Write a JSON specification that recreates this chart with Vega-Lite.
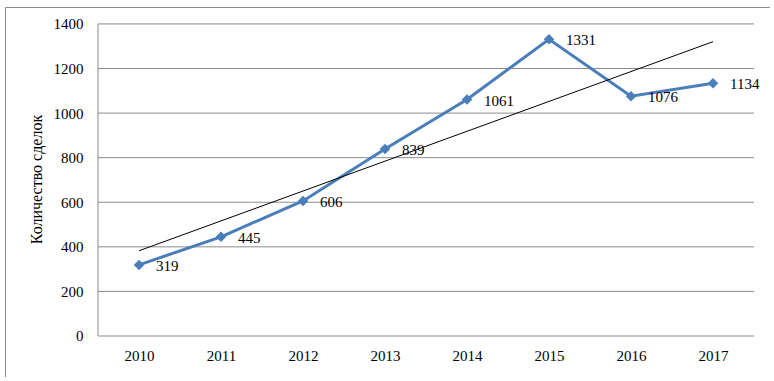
{
  "$schema": "https://vega.github.io/schema/vega-lite/v6.json",
  "width": 765,
  "height": 370,
  "autosize": {"type": "none"},
  "padding": {"left": 5, "top": 7, "right": 0, "bottom": 0},
  "background": "white",
  "config": {
    "view": {"stroke": "#8c8c8c", "strokeWidth": 1},
    "font": "Liberation Serif, serif",
    "axis": {"titleFont": "Liberation Serif, serif", "labelFont": "Liberation Serif, serif"}
  },
  "datasets": {
    "deals": [
      {"year": 2010, "count": 319},
      {"year": 2011, "count": 445},
      {"year": 2012, "count": 606},
      {"year": 2013, "count": 839},
      {"year": 2014, "count": 1061},
      {"year": 2015, "count": 1331},
      {"year": 2016, "count": 1076},
      {"year": 2017, "count": 1134}
    ],
    "grid": [
      {"v": 0, "from": 2009.5, "to": 2017.5},
      {"v": 200, "from": 2009.5, "to": 2017.5},
      {"v": 400, "from": 2009.5, "to": 2017.5},
      {"v": 600, "from": 2009.5, "to": 2017.5},
      {"v": 800, "from": 2009.5, "to": 2017.5},
      {"v": 1000, "from": 2009.5, "to": 2017.5},
      {"v": 1200, "from": 2009.5, "to": 2017.5},
      {"v": 1400, "from": 2009.5, "to": 2017.5}
    ],
    "frame": [
      {"x": 2009.5, "low": 0, "high": 1400}
    ]
  },
  "layer": [
    {
      "data": {"name": "grid"},
      "mark": {"type": "rule", "color": "#8c8c8c", "strokeWidth": 1},
      "encoding": {
        "x": {
          "field": "from", "type": "quantitative",
          "scale": {"domain": [2008.366, 2017.695], "nice": false, "zero": false},
          "axis": {
            "values": [2010, 2011, 2012, 2013, 2014, 2015, 2016, 2017],
            "format": "d", "offset": -29, "ticks": false, "domain": false, "grid": false,
            "labelPadding": 0, "labelFontSize": 15, "labelColor": "#000",
            "labelFlush": false, "title": null
          }
        },
        "x2": {"field": "to"},
        "y": {
          "field": "v", "type": "quantitative",
          "scale": {"domain": [-184, 1476], "nice": false, "zero": false},
          "axis": {
            "values": [0, 200, 400, 600, 800, 1000, 1200, 1400],
            "format": "d",
            "title": "Количество сделок", "offset": -78, "ticks": false, "domain": false, "grid": false,
            "labelPadding": 0, "labelFontSize": 15, "labelColor": "#000",
            "titleFontSize": 16, "titleFontWeight": "normal", "titleColor": "#000",
            "titlePadding": 9, "titleY": 172
          }
        }
      }
    },
    {
      "data": {"name": "frame"},
      "mark": {"type": "rule", "color": "#8c8c8c", "strokeWidth": 1},
      "encoding": {
        "x": {"field": "x", "type": "quantitative"},
        "y": {"field": "low", "type": "quantitative"},
        "y2": {"field": "high"}
      }
    },
    {
      "data": {"name": "deals"},
      "mark": {"type": "line", "color": "#4a7ebb", "strokeWidth": 3},
      "encoding": {
        "x": {"field": "year", "type": "quantitative"},
        "y": {"field": "count", "type": "quantitative"}
      }
    },
    {
      "data": {"name": "deals"},
      "mark": {"type": "point", "shape": "diamond", "filled": true, "size": 110, "color": "#4a7ebb", "opacity": 1},
      "encoding": {
        "x": {"field": "year", "type": "quantitative"},
        "y": {"field": "count", "type": "quantitative"}
      }
    },
    {
      "data": {"name": "deals"},
      "transform": [{"regression": "count", "on": "year", "extent": [2010, 2017]}],
      "mark": {"type": "line", "color": "#000", "strokeWidth": 1},
      "encoding": {
        "x": {"field": "year", "type": "quantitative"},
        "y": {"field": "count", "type": "quantitative"}
      }
    },
    {
      "data": {"name": "deals"},
      "mark": {"type": "text", "align": "left", "baseline": "middle", "dx": 17, "dy": 1, "fontSize": 15, "color": "#000"},
      "encoding": {
        "x": {"field": "year", "type": "quantitative"},
        "y": {"field": "count", "type": "quantitative"},
        "text": {"field": "count", "type": "quantitative", "format": "d"}
      }
    }
  ]
}
